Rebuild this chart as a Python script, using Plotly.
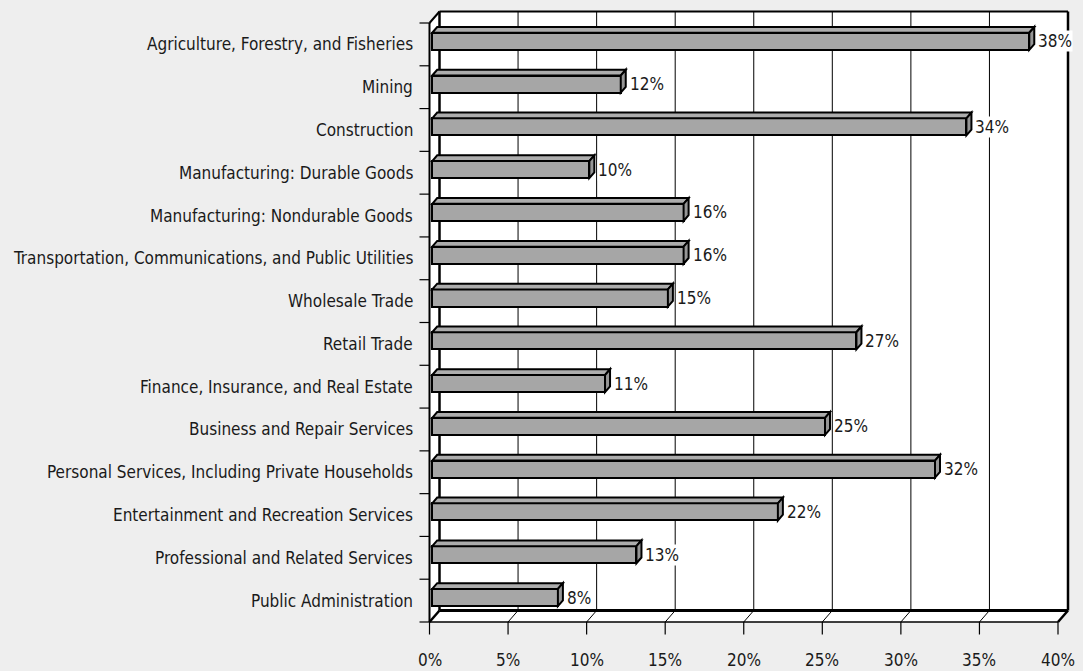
import plotly.graph_objects as go

# Industries, listed top to bottom, and their shares (%)
categories = [
    "Agriculture, Forestry, and Fisheries",
    "Mining",
    "Construction",
    "Manufacturing: Durable Goods",
    "Manufacturing: Nondurable Goods",
    "Transportation, Communications, and Public Utilities",
    "Wholesale Trade",
    "Retail Trade",
    "Finance, Insurance, and Real Estate",
    "Business and Repair Services",
    "Personal Services, Including Private Households",
    "Entertainment and Recreation Services",
    "Professional and Related Services",
    "Public Administration",
]
values = [38, 12, 34, 10, 16, 16, 15, 27, 11, 25, 32, 22, 13, 8]
x_ticks = [0, 5, 10, 15, 20, 25, 30, 35, 40]
x_tick_labels = [f"{t}%" for t in x_ticks]

FONT = "Liberation Sans Narrow, Arial Narrow, DejaVu Sans Condensed, sans-serif"
BG = "#EEEEEE"

# Page geometry: plot area covers the whole page, axes hidden;
# front plane origin (0%, bottom edge) sits at pixel (429.5, 622).
W, H = 1083, 671
ORIGIN_PX, ORIGIN_PY = 429.5, 622.0
SX = 628.5 / 40.0           # px per percent
SY = 599.0 / len(categories)  # px per category row
x_range = [-ORIGIN_PX / SX, (W - ORIGIN_PX) / SX]
y_range = [-0.5 - (H - ORIGIN_PY) / SY, -0.5 + ORIGIN_PY / SY]

# Oblique depth of the box and of the bars (in data units)
DX, DY = 10.0 / SX, 11.5 / SY
F1, F2 = 0.27, 0.77          # bar front / back depth fractions
BDX, BDY = (F2 - F1) * DX, (F2 - F1) * DY
HALF = 0.2                   # half bar thickness (rows)

n = len(categories)
ypos = [n - 1 - i for i in range(n)]
xmax = x_ticks[-1]
ybot, ytop = -0.5, n - 0.5

shapes = []


def path(points):
    return "M " + " L ".join(f"{x},{y}" for x, y in points) + " Z"


def seg(x0, y0, x1, y1, w=1, layer="below"):
    shapes.append(dict(type="line", xref="x", yref="y", x0=x0, y0=y0, x1=x1, y1=y1,
                       line=dict(color="black", width=w), layer=layer))


# Walls and floor (white)
shapes.append(dict(type="path", xref="x", yref="y", layer="below", fillcolor="white",
                   line=dict(width=0),
                   path=path([(DX, ybot + DY), (DX, ytop + DY), (xmax + DX, ytop + DY),
                              (xmax + DX, ybot + DY)])))
shapes.append(dict(type="path", xref="x", yref="y", layer="below", fillcolor="white",
                   line=dict(width=0),
                   path=path([(0, ybot), (0, ytop), (DX, ytop + DY), (DX, ybot + DY)])))
shapes.append(dict(type="path", xref="x", yref="y", layer="below", fillcolor="white",
                   line=dict(width=0),
                   path=path([(0, ybot), (DX, ybot + DY), (xmax + DX, ybot + DY), (xmax, ybot)])))

# Gridlines on the back wall and the floor
for t in x_ticks[1:-1]:
    seg(t + DX, ybot + DY, t + DX, ytop + DY, 1)
    seg(t, ybot, t + DX, ybot + DY, 1)

# Box edges
seg(DX, ybot + DY, DX, ytop + DY, 2.5)
seg(DX, ytop + DY, xmax + DX, ytop + DY, 2)
seg(xmax + DX, ytop + DY, xmax + DX, ybot + DY, 2.5)
seg(DX, ybot + DY, xmax + DX, ybot + DY, 3)
seg(xmax + DX, ybot + DY, xmax, ybot, 2.5)
seg(0, ybot, xmax, ybot, 1.5)
seg(0, ybot, DX, ybot + DY, 2.5)
seg(0, ytop, DX, ytop + DY, 2)
seg(0, ybot, 0, ytop, 2)

# Tick marks
for t in x_ticks:
    seg(t, ybot, t, ybot - 12.5 / SY, 1.2)
for j in range(n + 1):
    seg(0, ybot + j, -10.0 / SX, ybot + j, 1.2)

# Bar top and side faces
x0 = F1 * DX
for v, k in zip(values, ypos):
    yc = k + F1 * DY
    yt, yb = yc + HALF, yc - HALF
    x1 = x0 + v
    shapes.append(dict(type="path", xref="x", yref="y", layer="above", fillcolor="#ADADAD",
                       line=dict(color="black", width=2),
                       path=path([(x0, yt), (x0 + BDX, yt + BDY), (x1 + BDX, yt + BDY), (x1, yt)])))
    shapes.append(dict(type="path", xref="x", yref="y", layer="above", fillcolor="#969696",
                       line=dict(color="black", width=2),
                       path=path([(x1, yb), (x1, yt), (x1 + BDX, yt + BDY), (x1 + BDX, yb + BDY)])))

fig = go.Figure()
fig.add_trace(go.Bar(
    orientation="h",
    x=values,
    y=[k + F1 * DY for k in ypos],
    base=x0,
    width=2 * HALF,
    marker=dict(color="#A6A6A6", line=dict(color="black", width=2)),
    hoverinfo="skip",
))

annotations = []
# Category labels
for name, k in zip(categories, ypos):
    annotations.append(dict(x=0, y=k, xref="x", yref="y", text=name, showarrow=False,
                            xanchor="right", yanchor="middle", xshift=-15,
                            font=dict(family=FONT, size=17, color="#1a1a1a")))
# Value labels
for v, k in zip(values, ypos):
    annotations.append(dict(x=x0 + v + BDX, y=k + F1 * DY, xref="x", yref="y",
                            text=f"{v}%", showarrow=False, xanchor="left", yanchor="middle",
                            xshift=3, bgcolor="white", borderpad=0,
                            font=dict(family=FONT, size=17, color="#1a1a1a")))
# Axis tick labels
for t, lab in zip(x_ticks, x_tick_labels):
    annotations.append(dict(x=t, y=ybot - 38.0 / SY, xref="x", yref="y", text=lab,
                            showarrow=False, xanchor="center", yanchor="middle",
                            font=dict(family=FONT, size=17, color="#1a1a1a")))

fig.update_layout(
    width=W, height=H,
    margin=dict(l=0, r=0, t=0, b=0),
    paper_bgcolor=BG, plot_bgcolor=BG,
    showlegend=False,
    xaxis=dict(range=x_range, visible=False, fixedrange=True),
    yaxis=dict(range=y_range, visible=False, fixedrange=True),
    shapes=shapes,
    annotations=annotations,
    bargap=0,
)

fig.write_html("out.html")
